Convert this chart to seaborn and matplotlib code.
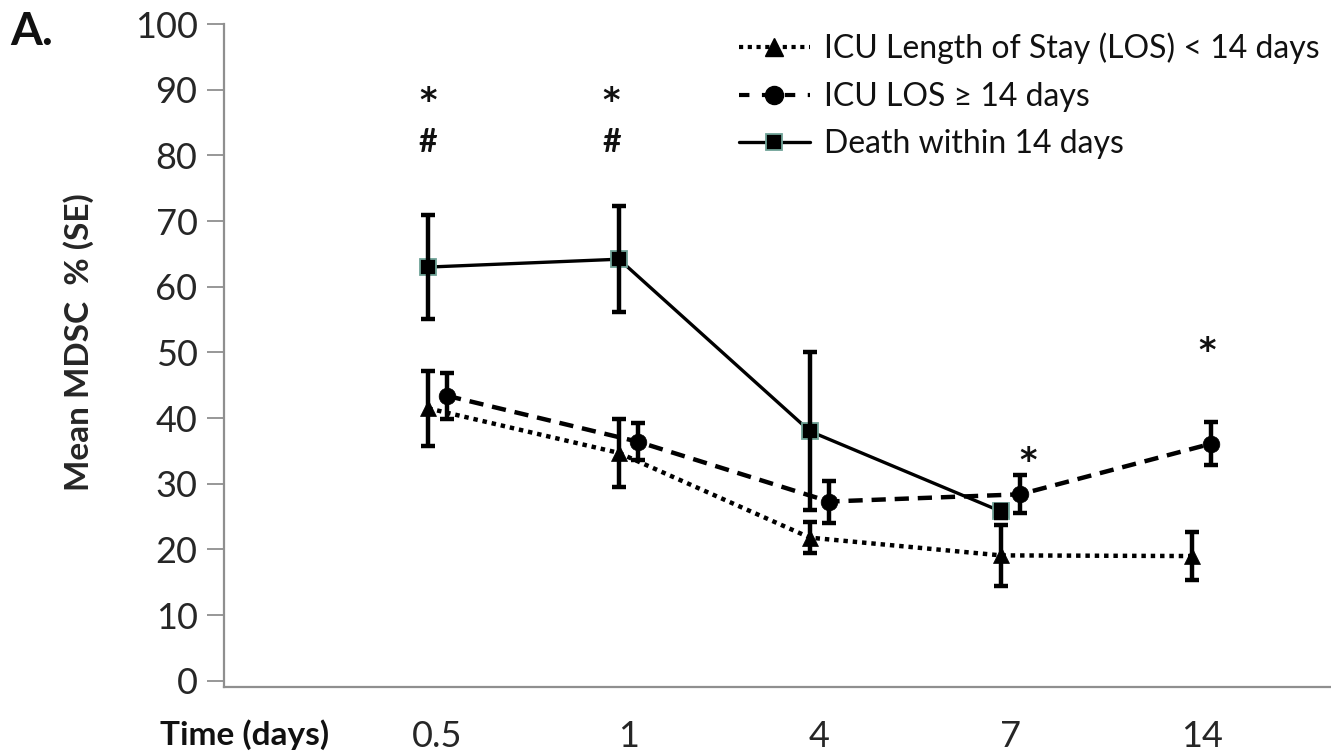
import numpy as np
import pandas as pd
import matplotlib
matplotlib.use("Agg")
import matplotlib.pyplot as plt
from matplotlib.lines import Line2D
import seaborn as sns

# values (mean % and SE)
time_labels = ["0.5", "1", "4", "7", "14"]
los_short_mean = [41.5, 34.7, 21.8, 19.1, 19.0]
los_short_se = [5.7, 5.2, 2.4, 4.7, 3.6]
los_long_mean = [43.4, 36.4, 27.3, 28.4, 36.1]
los_long_se = [3.5, 2.8, 3.2, 2.9, 3.3]
death_mean = [63.0, 64.2, 38.0, 25.8, np.nan]
death_se = [7.9, 8.1, 12.0, 1.0, np.nan]

series_names = ["ICU Length of Stay (LOS) < 14 days",
                "ICU LOS \u2265 14 days",
                "Death within 14 days"]

sns.set_style("white")
plt.rcParams['font.family'] = ['Lato', 'DejaVu Sans']
plt.rcParams['text.color'] = '#111111'

pos = np.arange(len(time_labels))
df_short = pd.DataFrame({"x": pos, "y": los_short_mean, "se": los_short_se})
df_long = pd.DataFrame({"x": pos + 0.1, "y": los_long_mean, "se": los_long_se})
df_death = pd.DataFrame({"x": pos, "y": death_mean, "se": death_se}).dropna()

fig = plt.figure(figsize=(13.31, 7.53), dpi=100)
ax = fig.add_axes([0.1683, 0.088, 0.8317, 0.880])

sq_edge = "#6fa397"

sns.lineplot(data=df_short, x="x", y="y", ax=ax, color="black", lw=3.2,
             linestyle=(0, (1, 1.1)), marker="^", ms=12,
             markeredgecolor="black", markeredgewidth=0.5, legend=False)
sns.lineplot(data=df_long, x="x", y="y", ax=ax, color="black", lw=3.2,
             linestyle=(0, (3.2, 2.0)), marker="o", ms=12,
             markeredgecolor="black", markeredgewidth=0.5, legend=False)
sns.lineplot(data=df_death, x="x", y="y", ax=ax, color="black", lw=2.4,
             linestyle="-", marker="s", ms=12,
             markeredgecolor=sq_edge, markeredgewidth=1.3, legend=False)

for d in [df_short, df_long, df_death]:
    ax.errorbar(d["x"], d["y"], yerr=d["se"], fmt="none", ecolor="black",
                elinewidth=3.2, capsize=5, capthick=3.2, zorder=4)

# significance marks (star baseline sits below its visual centre)
star_kw = dict(ha="center", va="baseline", fontsize=24, fontweight="bold",
               family="DejaVu Sans")
hash_kw = dict(ha="center", va="center", fontsize=23, fontweight="bold")
ax.text(0, 86.8, "*", **star_kw)
ax.text(0, 82, "#", **hash_kw)
ax.text(0.96, 86.8, "*", **star_kw)
ax.text(0.96, 82, "#", **hash_kw)
ax.text(3.14, 32.0, "*", **star_kw)
ax.text(4.08, 48.7, "*", **star_kw)

ax.set_xlim(-1.068, 4.728)
ax.set_ylim(-0.9, 100)
ax.set_yticks(range(0, 101, 10))
ax.set_xticks(pos + 0.05)
ax.set_xticklabels(time_labels)
ax.set_xlabel("")
ax.set_ylabel("Mean MDSC  % (SE)", fontsize=24, fontweight="bold")
ax.yaxis.set_label_coords(-0.117, 0.52)

for s in ["top", "right"]:
    ax.spines[s].set_visible(False)
for s in ["left", "bottom"]:
    ax.spines[s].set_color("#8f8f8f")
    ax.spines[s].set_linewidth(1.6)
ax.tick_params(axis="y", left=True, length=12, width=1.3, color="#8f8f8f",
               labelsize=26, pad=7)
ax.tick_params(axis="x", length=0, labelsize=26, pad=24)

handles = [
    Line2D([], [], color="black", lw=3, linestyle=(0, (1, 1.1)), marker="^", ms=13),
    Line2D([], [], color="black", lw=3, linestyle=(0, (2.5, 3.0)), marker="o", ms=13),
    Line2D([], [], color="black", lw=2.4, linestyle="-", marker="s", ms=12,
           markeredgecolor=sq_edge, markeredgewidth=1.3),
]
fig.legend(handles, series_names, loc="upper right", bbox_to_anchor=(1.013, 0.995),
           frameon=False, fontsize=23, handlelength=2.2, handletextpad=0.45,
           labelspacing=0.55)

fig.text(10 / 1331, 1 - 32 / 753, "A.", fontsize=33, fontweight="bold",
         ha="left", va="center")
fig.text(245 / 1331, 18 / 753, "Time (days)", fontsize=24, fontweight="bold",
         ha="center", va="center")

fig.savefig("out.png", dpi=100)
